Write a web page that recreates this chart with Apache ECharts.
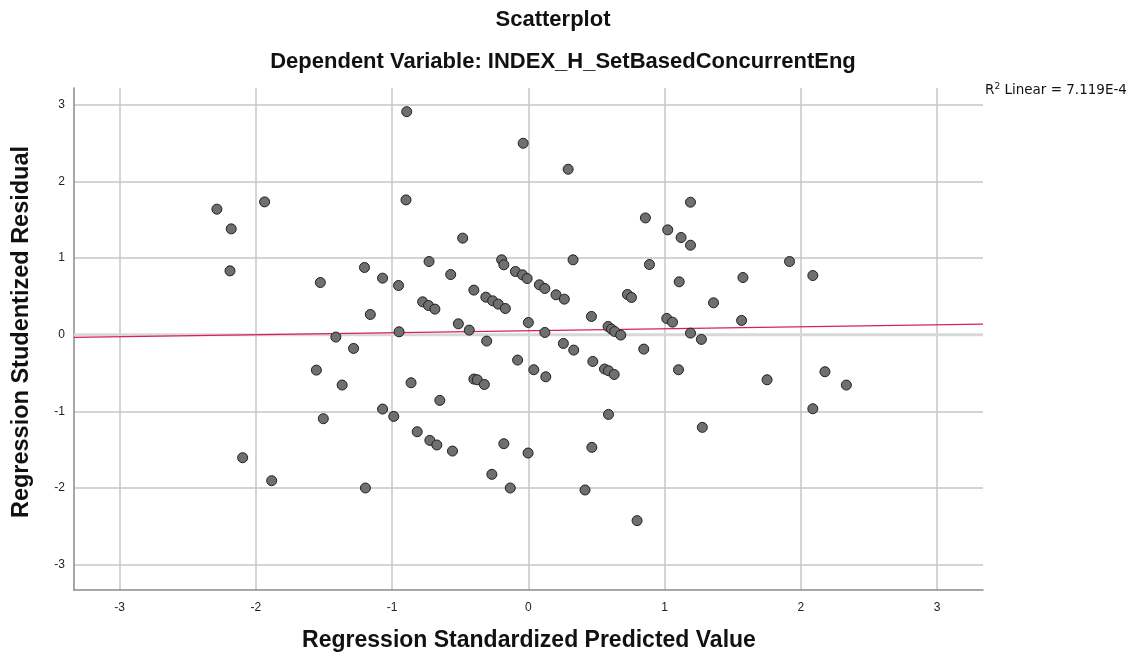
<!DOCTYPE html>
<html><head><meta charset="utf-8">
<script src="https://cdn.jsdelivr.net/npm/echarts@6/dist/echarts.min.js"></script>
<style>html,body{margin:0;padding:0;background:#fff}#c{width:1146px;height:657px}</style>
</head><body><div id="c"></div>
<script>
const titleText = 'Scatterplot';
const subtitleText = 'Dependent Variable: INDEX_H_SetBasedConcurrentEng';
const xTitle = 'Regression Standardized Predicted Value';
const yTitle = 'Regression Studentized Residual';
const r2Text = '7.119E-4';
const xRange = [-3.335, 3.337];
const yRange = [-3.33, 3.22];
const predicted = [-2.286,-2.181,-2.190,-1.936,-1.527,-1.413,-0.893,-0.038,0.292,-0.898,
-0.482,-1.203,-0.729,0.328,-1.070,-0.953,-0.570,-0.196,-0.180,-0.095,
-0.043,-0.009,0.081,0.121,0.203,0.264,-0.400,-0.776,-0.733,-0.686,
-0.312,-0.262,-0.221,-0.169,-1.160,-0.514,-0.434,0.000,-0.949,0.121,
0.463,0.727,0.757,0.585,0.610,0.634,0.678,1.190,0.859,1.023,
1.121,1.190,0.889,1.917,2.088,1.575,1.107,1.359,1.016,1.058,
1.565,1.190,1.270,-1.283,-0.306,0.257,0.333,-0.079,0.473,-1.367,
-0.861,0.040,0.128,-0.400,-0.375,-0.323,0.559,0.588,0.630,-0.650,
-1.070,-0.988,0.588,-0.816,-0.723,-0.672,-0.557,-0.180,-0.002,0.466,
-0.268,-1.196,-0.133,0.416,-1.556,-1.505,-2.097,-1.884,0.847,1.102,
1.752,2.177,2.334,2.088,1.277,0.798];
const residual = [1.639,1.382,0.834,1.734,0.682,-0.030,2.911,2.499,2.160,1.760,
1.261,0.878,0.956,0.978,0.739,0.643,0.786,0.978,0.913,0.826,
0.782,0.734,0.652,0.604,0.522,0.465,0.583,0.430,0.382,0.335,
0.491,0.443,0.400,0.343,0.265,0.143,0.061,0.160,0.039,0.030,
0.239,0.526,0.487,0.108,0.074,0.043,-0.004,1.730,1.525,1.369,
1.269,1.169,0.917,0.956,0.773,0.747,0.691,0.417,0.213,0.165,
0.187,0.022,-0.060,-0.178,-0.082,-0.113,-0.200,-0.330,-0.348,-0.656,
-0.626,-0.456,-0.548,-0.578,-0.587,-0.648,-0.447,-0.469,-0.518,-0.856,
-0.969,-1.065,-1.039,-1.265,-1.378,-1.438,-1.517,-1.421,-1.543,-1.469,
-1.821,-1.999,-1.999,-2.025,-0.461,-1.095,-1.604,-1.904,-0.187,-0.456,
-0.587,-0.482,-0.656,-0.965,-1.208,-2.425];
const fitX = [-3.335, 3.337];
const fitY = [-0.035, 0.14];
const refY = 0;

const FONT = 'Liberation Sans';
const chart = echarts.init(document.getElementById('c'), null, {renderer: 'canvas'});
const intLabel = v => (Math.abs(v - Math.round(v)) < 1e-6 ? String(Math.round(v)) : '');
const axisCommon = {
  type: 'value',
  splitNumber: 6,
  axisLine: {show: true, onZero: false, lineStyle: {color: '#8a8a8a', width: 1.5}},
  axisTick: {show: false},
  axisLabel: {color: '#222', fontSize: 12, fontFamily: FONT, formatter: intLabel, showMinLabel: false, showMaxLabel: false},
  splitLine: {show: true, showMinLine: false, showMaxLine: false, lineStyle: {color: '#c6c6c6', width: 1.5}}
};
chart.setOption({
  animation: false,
  backgroundColor: '#fff',
  grid: {left: 74, right: 163, top: 88, bottom: 67},
  xAxis: Object.assign({}, axisCommon, {min: xRange[0], max: xRange[1], axisLabel: Object.assign({}, axisCommon.axisLabel, {margin: 12})}),
  yAxis: Object.assign({}, axisCommon, {min: yRange[0], max: yRange[1], axisLabel: Object.assign({}, axisCommon.axisLabel, {margin: 9})}),
  series: [
    {
      type: 'line', z: 1, silent: true, symbol: 'none',
      lineStyle: {color: '#d8d8d8', width: 3},
      data: xRange.map(x => [x, refY])
    },
    {
      type: 'line', z: 2, silent: true, symbol: 'none',
      lineStyle: {color: '#dc1f55', width: 1.3},
      data: fitX.map((x, i) => [x, fitY[i]])
    },
    {
      type: 'scatter', z: 3, symbol: 'circle', symbolSize: 10,
      itemStyle: {color: '#6f6f6f', borderColor: '#202020', borderWidth: 1, opacity: 1},
      data: predicted.map((x, i) => [x, residual[i]])
    }
  ],
  graphic: [
    {type: 'text', x: 553, y: 20, style: {text: titleText, font: 'bold 22px "' + FONT + '"', fill: '#111', textAlign: 'center', textVerticalAlign: 'middle'}},
    {type: 'text', x: 563, y: 62, style: {text: subtitleText, font: 'bold 22px "' + FONT + '"', fill: '#111', textAlign: 'center', textVerticalAlign: 'middle'}},
    {type: 'text', x: 529, y: 641, style: {text: xTitle, font: 'bold 23px "' + FONT + '"', fill: '#111', textAlign: 'center', textVerticalAlign: 'middle'}},
    {type: 'text', x: 22, y: 332, rotation: Math.PI / 2, style: {text: yTitle, font: 'bold 23.5px "' + FONT + '"', fill: '#111', textAlign: 'center', textVerticalAlign: 'middle'}},
    {type: 'text', x: 985, y: 90, style: {
      text: '{a|R}{s|2}{a| Linear = ' + r2Text + '}',
      rich: {a: {fontSize: 13.5, fontFamily: 'DejaVu Sans', fill: '#111'}, s: {fontSize: 9, fontFamily: 'DejaVu Sans', fill: '#111', verticalAlign: 'top', padding: [0, 0, 6, 0]}},
      textVerticalAlign: 'middle'}}
  ]
});
</script></body></html>
